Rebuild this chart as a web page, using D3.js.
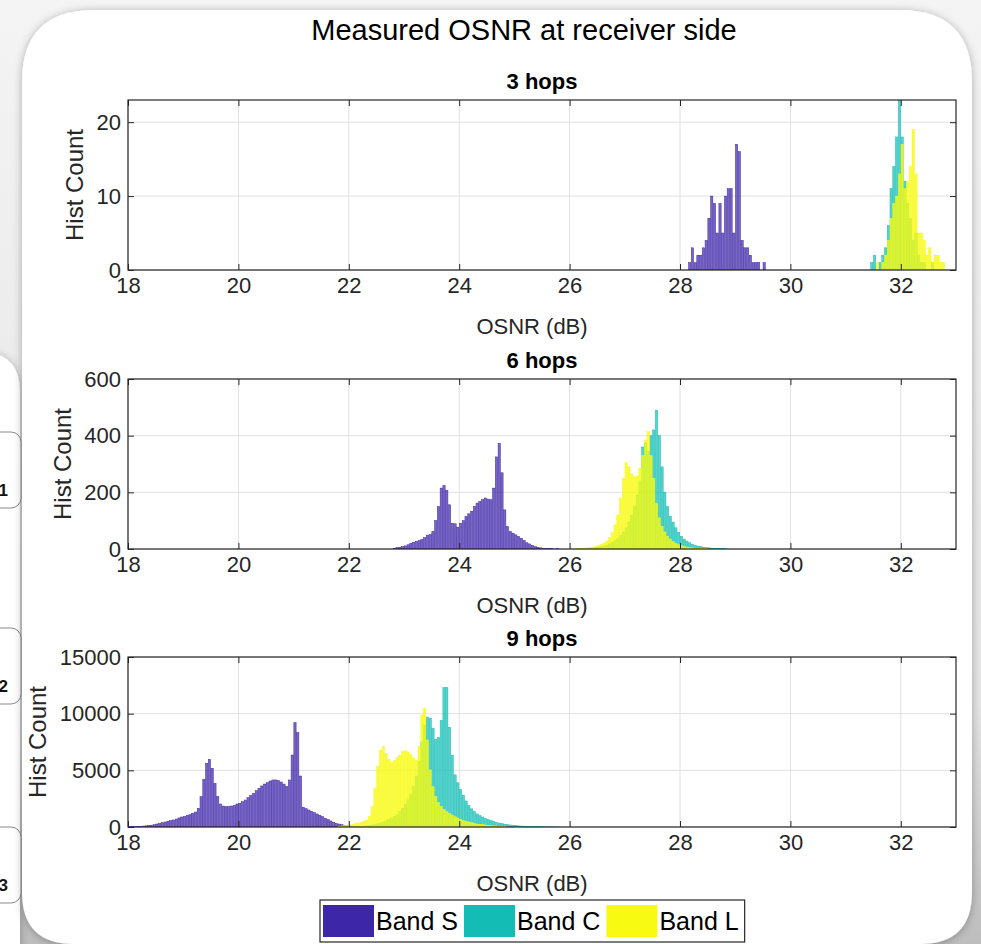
<!DOCTYPE html>
<html>
<head>
<meta charset="utf-8">
<script src="https://cdn.jsdelivr.net/npm/d3@7"></script>
<style>
html, body { margin: 0; padding: 0; background: #f2f2f2; }
svg { display: block; font-family: "Liberation Sans", Arial, Helvetica, sans-serif; }
</style>
</head>
<body>
<div id="chart"></div>
<script>
// ---- data ----
var mainTitle = 'Measured OSNR at receiver side';
var panelTitles = ['3 hops', '6 hops', '9 hops'];
var bandNames = ['Band S', 'Band C', 'Band L'];
var bandColors = ['#3e26a8', '#13bdb6', '#f8fa12'];
var xTicks = [18, 20, 22, 24, 26, 28, 30, 32];
var xDomain = [18, 33];
var binWidth = 0.05;

var yTicks3 = [0, 10, 20];
var yTicks6 = [0, 200, 400, 600];
var yTicks9 = [0, 5000, 10000, 15000];
var yMax = [23, 600, 15000];

// first bin edge (dB) of each histogram
var binStart3 = [28.15, 31.45, 31.45];
var binStart6 = [22.8, 26.0, 26.0];
var binStart9 = [18.0, 21.8, 21.8];

// 3 hops
var hops3S = [1, 3, 1, 2, 2, 3, 4, 7, 10, 9, 5, 9, 5, 10, 11, 11, 5, 17, 16, 4, 3, 3, 2, 1, 1, 1, 0, 1];
var hops3C = [1, 2, 0, 1, 2, 3, 6, 11, 14, 18, 23, 18, 12, 9, 7, 4, 5, 2, 1, 1, 0, 0, 1, 0, 0, 0, 0, 0];
var hops3L = [0, 0, 1, 0, 1, 2, 4, 7, 9, 10, 13, 17, 11, 12, 14, 19, 13, 5, 5, 4, 2, 3, 1, 2, 2, 1, 1, 0];

// 6 hops
var hops6S = [2, 5, 6, 8, 11, 15, 20, 24, 27, 30, 34, 40, 49, 51, 62, 100, 150, 215, 224, 207,
  156, 91, 89, 77, 91, 100, 115, 124, 133, 150, 162, 168, 174, 180, 176, 174, 215, 325, 373, 269,
  138, 79, 62, 56, 50, 44, 38, 30, 22, 18, 13, 8, 6, 4, 2, 1, 1, 1, 0, 1];
var hops6C = [0, 0, 1, 1, 1, 2, 2, 3, 4, 5, 7, 9, 11, 14, 18, 23, 30, 38, 48, 60,
  75, 95, 120, 150, 190, 240, 360, 375, 345, 400, 420, 490, 400, 290, 200, 150, 115, 95, 75, 58,
  45, 35, 28, 22, 17, 13, 10, 8, 6, 5, 4, 3, 2, 2, 1, 1, 1, 0];
var hops6L = [0, 0, 1, 1, 2, 3, 4, 5, 7, 9, 12, 16, 21, 28, 40, 58, 85, 120, 180, 250,
  305, 290, 265, 255, 258, 285, 330, 385, 415, 330, 250, 160, 110, 80, 60, 45, 35, 27, 20, 15,
  12, 9, 7, 5, 4, 3, 2, 2, 1, 1, 0, 0, 0, 0, 0, 0, 0, 0];

// 9 hops
var hops9S = [20, 30, 40, 50, 60, 80, 100, 130, 160, 200,
  265, 320, 380, 440, 500, 560, 620, 700, 800, 880,
  940, 1030, 1090, 1200, 1320, 1650, 2680, 4200, 5620, 5970,
  5180, 3850, 2680, 2030, 1850, 1790, 1790, 1850, 1910, 2030,
  2090, 2240, 2380, 2590, 2760, 2970, 3200, 3410, 3620, 3790,
  3910, 4060, 4150, 4150, 4090, 3970, 3790, 3560, 4150, 6350,
  9200, 8320, 4500, 1740, 1620, 1500, 1380, 1260, 1150, 1030,
  910, 760, 650, 530, 410, 320, 260, 200, 150, 120,
  90, 60, 40, 30];
var hops9C = [0, 0, 10, 10, 20, 20, 30, 40, 60, 80,
  100, 130, 170, 220, 280, 350, 440, 540, 650, 780,
  930, 1100, 1350, 1650, 2000, 2400, 2900, 3600, 4500, 5800,
  7500, 9000, 9700, 9600, 8700, 7700, 7900, 9400, 12300, 12300,
  8800, 6300, 4600, 3900, 3300, 2800, 2300, 1900, 1600, 1350,
  1150, 1000, 880, 760, 650, 560, 480, 410, 350, 300,
  250, 210, 180, 150, 120, 100, 85, 70, 60, 50,
  40, 35, 30, 25, 20, 20, 15, 10, 10, 5];
var hops9L = [60, 90, 120, 150, 180, 240, 290, 350, 410, 500,
  620, 970, 1790, 3410, 5320, 6790, 7090, 6500, 5970, 5680,
  5850, 6150, 6320, 6650, 6730, 6620, 6380, 6090, 5910, 7090,
  9880, 10470, 7680, 5030, 3560, 2680, 2150, 1790, 1560, 1350,
  1210, 1060, 910, 790, 680, 590, 500, 440, 380, 320,
  260, 240, 200, 180, 150, 120, 90, 90, 60, 60, 30];

// ---- layout ----
var W = 981, H = 944;
var AX_LEFT = 128, AX_RIGHT = 956, PLOT_H = 170;
var INK = '#262626';

var panels = [
  { title: panelTitles[0], top: 100, yMax: yMax[0], yTicks: yTicks3,
    series: [[binStart3[0], hops3S], [binStart3[1], hops3C], [binStart3[2], hops3L]] },
  { title: panelTitles[1], top: 379, yMax: yMax[1], yTicks: yTicks6,
    series: [[binStart6[0], hops6S], [binStart6[1], hops6C], [binStart6[2], hops6L]] },
  { title: panelTitles[2], top: 657, yMax: yMax[2], yTicks: yTicks9,
    series: [[binStart9[0], hops9S], [binStart9[1], hops9C], [binStart9[2], hops9L]] }
];

var svg = d3.select('#chart').append('svg')
  .attr('width', W)
  .attr('height', H);

var defs = svg.append('defs');

var bgGrad = defs.append('linearGradient')
  .attr('id', 'bgGrad')
  .attr('x1', 0).attr('y1', 0).attr('x2', 0).attr('y2', 1);
bgGrad.append('stop').attr('offset', '0%').attr('stop-color', '#f4f4f4');
bgGrad.append('stop').attr('offset', '75%').attr('stop-color', '#e4e4e4');
bgGrad.append('stop').attr('offset', '100%').attr('stop-color', '#bdbdbd');

var shadow = defs.append('filter')
  .attr('id', 'shadow')
  .attr('x', '-10%').attr('y', '-10%')
  .attr('width', '120%').attr('height', '120%');
shadow.append('feDropShadow')
  .attr('dx', 0).attr('dy', 1)
  .attr('stdDeviation', 4)
  .attr('flood-color', '#000')
  .attr('flood-opacity', 0.3);

// ---- page background, side strip and rounded panel ----
svg.append('rect')
  .attr('width', W).attr('height', H)
  .attr('fill', 'url(#bgGrad)');

function roundedPath(x0, y0, x1, y1, rTop, rBot) {
  return 'M' + (x0 + rTop) + ',' + y0 +
    ' H' + (x1 - rTop) +
    ' Q' + x1 + ',' + y0 + ' ' + x1 + ',' + (y0 + rTop) +
    ' V' + (y1 - rBot) +
    ' Q' + x1 + ',' + y1 + ' ' + (x1 - rBot) + ',' + y1 +
    ' H' + (x0 + rBot) +
    ' Q' + x0 + ',' + y1 + ' ' + x0 + ',' + (y1 - rBot) +
    ' V' + (y0 + rTop) +
    ' Q' + x0 + ',' + y0 + ' ' + (x0 + rTop) + ',' + y0 + ' Z';
}

// side strip on the left with the numbered tabs
svg.append('path')
  .attr('d', roundedPath(-60, 352, 20, 1000, 40, 0))
  .attr('fill', '#ffffff')
  .attr('filter', 'url(#shadow)');

var tabs = [
  { label: '1', top: 432 },
  { label: '2', top: 628 },
  { label: '3', top: 827 }
];
var tabSel = svg.append('g').selectAll('g')
  .data(tabs)
  .join('g');
tabSel.append('rect')
  .attr('x', -20).attr('y', function(d) { return d.top; })
  .attr('width', 41).attr('height', 76)
  .attr('rx', 10)
  .attr('fill', '#ffffff')
  .attr('stroke', '#8a8a8a')
  .attr('stroke-width', 1);
tabSel.append('text')
  .attr('x', 8).attr('y', function(d) { return d.top + 64; })
  .attr('text-anchor', 'end')
  .attr('font-size', 17)
  .attr('font-weight', 'bold')
  .attr('fill', '#111')
  .text(function(d) { return d.label; });

svg.append('path')
  .attr('d', roundedPath(22, 10, 972, 944, 72, 52))
  .attr('fill', '#ffffff')
  .attr('filter', 'url(#shadow)');

// ---- main title ----
svg.append('text')
  .attr('x', 524).attr('y', 40)
  .attr('text-anchor', 'middle')
  .attr('font-size', 29)
  .attr('fill', '#000')
  .text(mainTitle);

var x = d3.scaleLinear().domain(xDomain).range([AX_LEFT, AX_RIGHT]);
var binPx = x(xDomain[0] + binWidth) - x(xDomain[0]);

panels.forEach(function(p, pi) {
  var bottom = p.top + PLOT_H;
  var y = d3.scaleLinear().domain([0, p.yMax]).range([bottom, p.top]);
  var g = svg.append('g').attr('class', 'panel');

  var clipId = 'clip' + pi;
  defs.append('clipPath').attr('id', clipId)
    .append('rect')
    .attr('x', AX_LEFT).attr('y', p.top)
    .attr('width', AX_RIGHT - AX_LEFT).attr('height', PLOT_H);

  // grid
  g.append('g').selectAll('line')
    .data(xTicks)
    .join('line')
    .attr('x1', function(d) { return x(d); })
    .attr('x2', function(d) { return x(d); })
    .attr('y1', p.top).attr('y2', bottom)
    .attr('stroke', '#e0e0e0');
  g.append('g').selectAll('line')
    .data(p.yTicks)
    .join('line')
    .attr('x1', AX_LEFT).attr('x2', AX_RIGHT)
    .attr('y1', function(d) { return y(d); })
    .attr('y2', function(d) { return y(d); })
    .attr('stroke', '#e0e0e0');

  // histogram bars, drawn S then C then L like the original
  var bars = g.append('g').attr('clip-path', 'url(#' + clipId + ')');
  p.series.forEach(function(s, si) {
    var start = s[0];
    var rows = s[1].map(function(v, i) {
      return { x0: start + i * binWidth, v: v };
    });
    bars.append('g').selectAll('rect')
      .data(rows.filter(function(d) { return d.v > 0; }))
      .join('rect')
      .attr('x', function(d) { return x(d.x0) + 0.25; })
      .attr('width', binPx - 0.5)
      .attr('y', function(d) { return y(d.v); })
      .attr('height', function(d) { return bottom - y(d.v); })
      .attr('fill', bandColors[si])
      .attr('fill-opacity', si === 2 ? 0.8 : 0.7)
      .attr('stroke', bandColors[si])
      .attr('stroke-width', 0.5);
  });

  // axes with inward ticks, mirrored on top and right
  var axB = g.append('g')
    .attr('transform', 'translate(0,' + bottom + ')')
    .call(d3.axisBottom(x).tickValues(xTicks).tickSize(-6).tickPadding(7));
  var axT = g.append('g')
    .attr('transform', 'translate(0,' + p.top + ')')
    .call(d3.axisTop(x).tickValues(xTicks).tickSize(-6).tickFormat(''));
  var axL = g.append('g')
    .attr('transform', 'translate(' + AX_LEFT + ',0)')
    .call(d3.axisLeft(y).tickValues(p.yTicks).tickSize(-6).tickPadding(7)
      .tickFormat(d3.format('d')));
  var axR = g.append('g')
    .attr('transform', 'translate(' + AX_RIGHT + ',0)')
    .call(d3.axisRight(y).tickValues(p.yTicks).tickSize(-6).tickFormat(''));

  [axB, axT, axL, axR].forEach(function(a) {
    a.select('.domain').remove();
    a.selectAll('line').attr('stroke', INK);
    a.selectAll('text')
      .attr('fill', INK)
      .attr('font-size', 22)
      .attr('font-family', '"Liberation Sans", Arial, sans-serif');
  });
  axL.selectAll('text').attr('dy', '0.32em');

  g.append('rect')
    .attr('x', AX_LEFT).attr('y', p.top)
    .attr('width', AX_RIGHT - AX_LEFT).attr('height', PLOT_H)
    .attr('fill', 'none')
    .attr('stroke', INK)
    .attr('stroke-width', 1.2);

  // titles and axis labels
  var cx = (AX_LEFT + AX_RIGHT) / 2;
  g.append('text')
    .attr('x', cx).attr('y', p.top - 11)
    .attr('text-anchor', 'middle')
    .attr('font-size', 22)
    .attr('font-weight', 'bold')
    .attr('fill', '#000')
    .text(p.title);

  g.append('text')
    .attr('x', cx - 10).attr('y', bottom + 64)
    .attr('text-anchor', 'middle')
    .attr('font-size', 22)
    .attr('fill', INK)
    .text('OSNR (dB)');

  var minLeft = d3.min(axL.selectAll('text').nodes(), function(n) {
    return n.getBBox().x;
  });
  var labelX = AX_LEFT + minLeft - 22;
  g.append('text')
    .attr('transform', 'translate(' + labelX + ',' + (p.top + PLOT_H / 2) + ') rotate(-90)')
    .attr('text-anchor', 'middle')
    .attr('dy', '0.36em')
    .attr('font-size', 24)
    .attr('fill', INK)
    .text('Hist Count');
});

// ---- legend ----
var legend = svg.append('g');
var legBox = legend.append('rect')
  .attr('y', 900).attr('height', 42)
  .attr('fill', '#ffffff')
  .attr('stroke', INK)
  .attr('stroke-width', 1.2);
var lx = 323;
bandNames.forEach(function(name, i) {
  legend.append('rect')
    .attr('x', lx).attr('y', 905)
    .attr('width', 51).attr('height', 32)
    .attr('fill', bandColors[i]);
  var t = legend.append('text')
    .attr('x', lx + 53).attr('y', 930)
    .attr('font-size', 25)
    .attr('fill', '#000')
    .text(name);
  lx += 53 + t.node().getComputedTextLength() + 6;
});
legBox.attr('x', 320).attr('width', lx - 320);
</script>
</body>
</html>
